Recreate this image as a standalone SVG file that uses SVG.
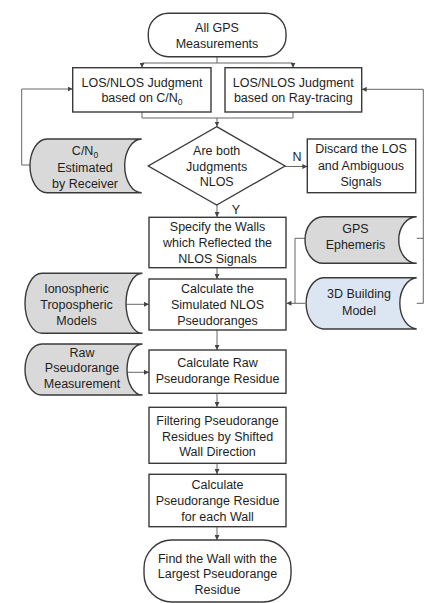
<svg xmlns="http://www.w3.org/2000/svg" width="426" height="603" viewBox="0 0 426 603">
<defs>
<marker id="ah" viewBox="0 0 6 6" refX="6" refY="3" markerWidth="5" markerHeight="5" orient="auto" markerUnits="userSpaceOnUse">
<path d="M0,0 L6,3 L0,6 z" fill="#444"/>
</marker>
</defs>
<style>
.box{fill:#fff;stroke:#3a3a3a;stroke-width:1.4}
.data{fill:#d9d9d9;stroke:#3a3a3a;stroke-width:1.4}
.blue{fill:#dce6f2;stroke:#3a3a3a;stroke-width:1.4}
.c{fill:none;stroke:#666;stroke-width:1}
.a{fill:none;stroke:#666;stroke-width:1;marker-end:url(#ah)}
text{font-family:"Liberation Sans",Arial,sans-serif;font-size:12.5px;fill:#1e1e1e;text-anchor:middle}
</style>
<rect width="426" height="603" fill="#fff"/>
<g id="connectors">
<path class="c" d="M217,57 V63 M142,63 H293"/>
<path class="a" d="M142,63 V67.7"/>
<path class="a" d="M293,63 V67.7"/>
<path class="c" d="M142,112 V118 H293 V112"/>
<path class="a" d="M217,118 V126.5"/>
<path class="a" d="M285,166.5 H307.3"/>
<path class="a" d="M217,205 V217"/>
<path class="a" d="M217,268 V279"/>
<path class="a" d="M217,330 V350"/>
<path class="a" d="M217,393 V407"/>
<path class="a" d="M217,463 V474"/>
<path class="a" d="M217,527 V540"/>
<path class="a" d="M30,165 H21.7 V89 H72.7"/>
<path class="c" d="M416.7,238.3 H423.3"/>
<path class="a" d="M416.7,303.3 H423.3 V89.3 H361.7"/>
<path class="c" d="M305,238.3 H295 V303.3"/>
<path class="a" d="M305,303.3 H286.5"/>
<path class="a" d="M126,304.3 H149"/>
<path class="a" d="M127,372.3 H149"/>
<text x="297" y="161">N</text>
<text x="236" y="214">Y</text>
</g>
<g id="start">
<rect class="box" x="148.3" y="13.3" width="137.7" height="43.4" rx="20" ry="20"/>
<text x="217" y="32">All GPS</text>
<text x="217" y="48">Measurements</text>
</g>
<g id="judge-cn0">
<rect class="box" x="72.7" y="67.7" width="138.3" height="44.3"/>
<text x="142" y="86.7">LOS/NLOS Judgment</text>
<text x="142" y="102">based on C/N<tspan font-size="8.5px" dy="3">0</tspan></text>
</g>
<g id="judge-ray">
<rect class="box" x="225" y="67.7" width="136.7" height="44.3"/>
<text x="293.3" y="86.7">LOS/NLOS Judgment</text>
<text x="293.3" y="102">based on Ray-tracing</text>
</g>
<g id="cn0-data">
<path class="data" d="M47,139 H141.7 A17,26.8 0 0 0 141.7,192.7 H47 A17,26.8 0 0 1 47,139 Z"/>
<text x="85" y="155">C/N<tspan font-size="8.5px" dy="3">0</tspan></text>
<text x="85" y="171.7">Estimated</text>
<text x="85" y="187.7">by Receiver</text>
</g>
<g id="decision">
<polygon class="box" points="216.7,126.7 285,166 216.7,205 148.3,166"/>
<text x="216.7" y="155">Are both</text>
<text x="216.7" y="170.5">Judgments</text>
<text x="216.7" y="186">NLOS</text>
</g>
<g id="discard">
<rect class="box" x="307.3" y="139" width="108.4" height="53.7"/>
<text x="361" y="153.3">Discard the LOS</text>
<text x="361" y="170">and Ambiguous</text>
<text x="361" y="186">Signals</text>
</g>
<g id="specify">
<rect class="box" x="149" y="217.3" width="137" height="50.4"/>
<text x="217.5" y="231">Specify the Walls</text>
<text x="217.5" y="246.7">which Reflected the</text>
<text x="217.5" y="262.5">NLOS Signals</text>
</g>
<g id="gps-eph">
<path class="data" d="M323,216.7 H416.7 A18,23.3 0 0 0 416.7,263.3 H323 A18,23.3 0 0 1 323,216.7 Z"/>
<text x="355.5" y="233.3">GPS</text>
<text x="355.5" y="249.3">Ephemeris</text>
</g>
<g id="building">
<path class="blue" d="M323,277.7 H416.7 A18,25.7 0 0 0 416.7,329 H323 A18,25.7 0 0 1 323,277.7 Z"/>
<text x="359" y="298.3">3D Building</text>
<text x="359" y="315">Model</text>
</g>
<g id="iono">
<path class="data" d="M42,273.3 H142.5 A16.5,30 0 0 0 142.5,333.3 H42 A17,30 0 0 1 42,273.3 Z"/>
<text x="76.5" y="293.3">Ionospheric</text>
<text x="76.5" y="309.3">Tropospheric</text>
<text x="76.5" y="325">Models</text>
</g>
<g id="calc-sim">
<rect class="box" x="149" y="279" width="137" height="51"/>
<text x="217.5" y="293.3">Calculate the</text>
<text x="217.5" y="309.3">Simulated NLOS</text>
<text x="217.5" y="325">Pseudoranges</text>
</g>
<g id="raw-meas">
<path class="data" d="M42,344 H142.5 A15.5,25.5 0 0 0 142.5,395 H42 A17,25.5 0 0 1 42,344 Z"/>
<text x="82" y="356.7">Raw</text>
<text x="82" y="372.3">Pseudorange</text>
<text x="82" y="388.3">Measurement</text>
</g>
<g id="calc-raw">
<rect class="box" x="149" y="350" width="137" height="43.3"/>
<text x="217.5" y="366.7">Calculate Raw</text>
<text x="217.5" y="383.3">Pseudorange Residue</text>
</g>
<g id="filter">
<rect class="box" x="149" y="407.3" width="137" height="56"/>
<text x="217.5" y="425">Filtering Pseudorange</text>
<text x="217.5" y="440.7">Residues by Shifted</text>
<text x="217.5" y="456">Wall Direction</text>
</g>
<g id="calc-wall">
<rect class="box" x="149" y="474.3" width="137" height="52.4"/>
<text x="217.5" y="489.3">Calculate</text>
<text x="217.5" y="505">Pseudorange Residue</text>
<text x="217.5" y="520.7">for each Wall</text>
</g>
<g id="end">
<rect class="box" x="144" y="540" width="147" height="62" rx="28" ry="28"/>
<text x="217.5" y="562.7">Find the Wall with the</text>
<text x="217.5" y="578.3">Largest Pseudorange</text>
<text x="217.5" y="594">Residue</text>
</g>
</svg>
